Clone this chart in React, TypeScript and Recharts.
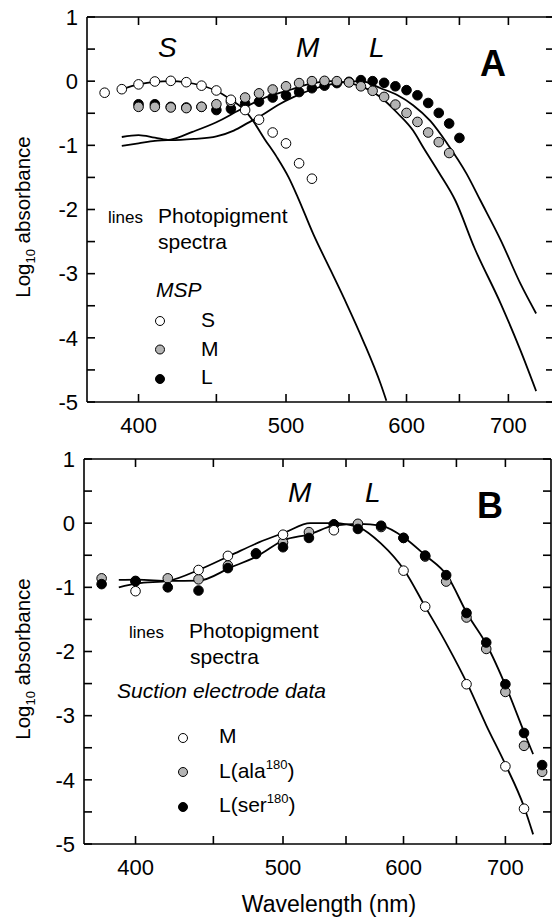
import React from 'react'
import { ComposedChart, Line, Scatter, XAxis, YAxis } from 'recharts'

const FONT = '"Liberation Sans", Arial, Helvetica, sans-serif'
const GREY = '#b4b4b4'

// panel A: MSP points (wavelength nm, log10 absorbance)
const A_S_WL = [380, 390, 400, 410, 420, 430, 440, 450, 460, 470, 480, 490, 500, 510, 520]
const A_S = [-0.18, -0.125, -0.05, -0.005, 0.005, -0.016, -0.07, -0.145, -0.29, -0.45, -0.6, -0.8, -0.97, -1.28, -1.52]
const A_M_WL = [400, 410, 420, 430, 440, 450, 460, 470, 480, 490, 500, 510, 520, 530, 540, 550, 560, 570, 580, 590, 600, 610, 620, 630, 640]
const A_M = [-0.4, -0.4, -0.41, -0.42, -0.4, -0.36, -0.32, -0.255, -0.19, -0.13, -0.08, -0.03, 0, 0.005, 0, -0.02, -0.08, -0.15, -0.245, -0.365, -0.495, -0.635, -0.8, -0.95, -1.12]
const A_L_WL = [400, 410, 420, 430, 440, 450, 460, 470, 480, 490, 500, 510, 520, 530, 540, 550, 560, 570, 580, 590, 600, 610, 620, 630, 640, 650]
const A_L = [-0.36, -0.36, -0.4, -0.41, -0.4, -0.45, -0.43, -0.35, -0.32, -0.255, -0.22, -0.17, -0.11, -0.07, -0.03, -0.01, 0.016, 0, -0.026, -0.08, -0.14, -0.22, -0.34, -0.495, -0.66, -0.885]

// panel A: photopigment spectra
const A_SLINE_WL = [390, 400, 410, 420, 430, 440, 450, 460, 470, 476, 484, 493, 502, 509, 521, 535, 548, 562, 577, 582]
const A_SLINE = [-0.125, -0.05, -0.01, 0, -0.02, -0.07, -0.15, -0.29, -0.46, -0.63, -0.9, -1.18, -1.5, -1.81, -2.38, -2.95, -3.47, -4.05, -4.72, -4.98]
const A_MLINE_WL = [390, 400, 410, 420, 434, 450, 466, 483, 504, 521, 535, 550, 563, 577, 592, 606, 616, 630, 646, 665, 692, 713, 730]
const A_MLINE = [-1.01, -0.97, -0.93, -0.91, -0.79, -0.64, -0.45, -0.27, -0.13, -0.03, 0, -0.03, -0.1, -0.25, -0.5, -0.77, -1.05, -1.42, -1.86, -2.6, -3.47, -4.2, -4.83]
const A_LLINE_WL = [390, 400, 410, 420, 435, 450, 462, 472, 482, 494, 506, 520, 535, 548, 560, 577, 592, 606, 622, 638, 657, 671, 692, 713, 730]
const A_LLINE = [-0.87, -0.84, -0.88, -0.92, -0.9, -0.86, -0.77, -0.65, -0.53, -0.37, -0.245, -0.13, -0.05, -0.01, 0, -0.11, -0.22, -0.375, -0.62, -0.97, -1.44, -1.86, -2.48, -3.16, -3.62]

// panel B: suction electrode data
const B_M_WL = [400, 440, 460, 500, 540, 600, 620, 660, 700, 720]
const B_M = [-1.06, -0.73, -0.51, -0.18, -0.11, -0.74, -1.3, -2.51, -3.79, -4.45]
const B_L_WL = [380, 400, 420, 440, 460, 480, 500, 520, 540, 560, 580, 600, 620, 640, 660, 680, 700, 720, 740]
const B_ALA = [-0.86, -0.9, -0.86, -0.875, -0.66, -0.47, -0.3, -0.14, -0.02, -0.01, -0.06, -0.23, -0.52, -0.91, -1.47, -1.96, -2.63, -3.47, -3.875]
const B_SER = [-0.95, -0.906, -1.0, -1.05, -0.7, -0.48, -0.375, -0.23, -0.02, -0.09, -0.04, -0.23, -0.505, -0.81, -1.4, -1.86, -2.51, -3.27, -3.77]

// panel B: photopigment spectra
const B_MLINE_WL = [390, 401, 421, 440, 462, 482, 502, 521, 540, 561, 580, 601, 620, 641, 661, 680, 700, 720, 730]
const B_MLINE = [-1.0, -0.94, -0.895, -0.73, -0.5, -0.3, -0.14, 0, 0, -0.07, -0.32, -0.74, -1.3, -1.9, -2.51, -3.15, -3.76, -4.42, -4.85]
const B_LLINE_WL = [390, 401, 421, 440, 462, 482, 500, 521, 540, 561, 580, 601, 620, 641, 661, 681, 701, 721, 730]
const B_LLINE = [-0.885, -0.88, -0.9, -0.895, -0.69, -0.5, -0.27, -0.17, -0.04, -0.01, -0.04, -0.23, -0.5, -0.82, -1.42, -1.91, -2.56, -3.29, -3.6]

const X_TICKS = [400, 450, 500, 550, 600, 650, 700]
const Y_TICKS = [1, 0.5, 0, -0.5, -1, -1.5, -2, -2.5, -3, -3.5, -4, -4.5, -5]

const pts = (wl: number[], v: number[]) => wl.map((x, i) => ({ x, y: v[i] }))

const dot = (fill: string) => (p: any) => (
  <circle cx={p.cx} cy={p.cy} r={4.8} fill={fill} stroke="#000" strokeWidth={1} />
)

const TICK_LEN = 8
const MARGIN_TOP = 18
const PLOT_W = 467
const AXIS = { stroke: '#000', strokeWidth: 1.6 }

type Series = { data: { x: number; y: number }[]; fill?: string }

// bottom tick: inward marks on the bottom and top frame, label under the axis
const xTick = (bottom: number) => (p: any) => {
  const v = p.payload.value
  return (
    <g>
      <line x1={p.x} x2={p.x} y1={MARGIN_TOP} y2={MARGIN_TOP + TICK_LEN} {...AXIS} />
      <line x1={p.x} x2={p.x} y1={bottom} y2={bottom - TICK_LEN} {...AXIS} />
      {v % 100 === 0 && (
        <text x={p.x} y={p.y} dy="0.71em" textAnchor="middle" fill="#000" fontSize={22} fontFamily={FONT}>{v}</text>
      )}
    </g>
  )
}

// left tick: inward marks on the left and right frame, label left of the axis
const yTick = (left: number, right: number) => (p: any) => {
  const v = p.payload.value
  return (
    <g>
      <line x1={left} x2={left + TICK_LEN} y1={p.y} y2={p.y} {...AXIS} />
      <line x1={right} x2={right - TICK_LEN} y1={p.y} y2={p.y} {...AXIS} />
      {Number.isInteger(v) && (
        <text x={p.x} y={p.y} dy="0.355em" textAnchor="end" fill="#000" fontSize={22} fontFamily={FONT}>{v}</text>
      )}
    </g>
  )
}

function Panel({ top, left, lines, points }: { top: number; left: number; lines: Series[]; points: Series[] }) {
  const bottom = 442 - 39
  return (
    <div style={{ position: 'absolute', left: 0, top }}>
      <ComposedChart width={left + PLOT_W + 8} height={442} margin={{ top: MARGIN_TOP - 1, right: 0, bottom: 0, left: 0 }}>
        <XAxis dataKey="x" type="number" scale="log" domain={[370, 750]} allowDataOverflow ticks={X_TICKS} interval={0}
          tickSize={0} tickMargin={15} height={39} axisLine={AXIS} tickLine={false} tick={xTick(bottom)} />
        <XAxis xAxisId="t" orientation="top" type="number" scale="log" domain={[370, 750]} allowDataOverflow
          tick={false} tickLine={false} height={1} axisLine={AXIS} />
        <YAxis dataKey="y" type="number" domain={[-5, 1]} allowDataOverflow ticks={Y_TICKS} interval={0}
          tickSize={0} tickMargin={9} width={left} axisLine={AXIS} tickLine={false} tick={yTick(left, left + PLOT_W)} />
        <YAxis yAxisId="r" orientation="right" type="number" domain={[-5, 1]} allowDataOverflow
          tick={false} tickLine={false} width={8} axisLine={AXIS} />
        {lines.map((s, i) => (
          <Line key={'l' + i} data={s.data} dataKey="y" type="monotone" stroke="#000" strokeWidth={1.8}
            dot={false} activeDot={false} isAnimationActive={false} />
        ))}
        {points.map((s, i) => (
          <Scatter key={'p' + i} data={s.data} dataKey="y" shape={dot(s.fill || '#fff')} isAnimationActive={false} />
        ))}
      </ComposedChart>
    </div>
  )
}

export default function App() {
  return (
    <div style={{ position: 'absolute', left: 0, top: 0, width: 552, height: 917, overflow: 'hidden', background: '#fff', fontFamily: FONT }}>
      <Panel
        top={-1}
        left={87}
        lines={[{ data: pts(A_SLINE_WL, A_SLINE) }, { data: pts(A_MLINE_WL, A_MLINE) }, { data: pts(A_LLINE_WL, A_LLINE) }]}
        points={[
          { data: pts(A_L_WL, A_L), fill: '#000' },
          { data: pts(A_M_WL, A_M), fill: GREY },
          { data: pts(A_S_WL, A_S), fill: '#fff' },
        ]}
      />
      <Panel
        top={441}
        left={84}
        lines={[{ data: pts(B_MLINE_WL, B_MLINE) }, { data: pts(B_LLINE_WL, B_LLINE) }]}
        points={[
          { data: pts(B_L_WL, B_ALA), fill: GREY },
          { data: pts(B_L_WL, B_SER), fill: '#000' },
          { data: pts(B_M_WL, B_M), fill: '#fff' },
        ]}
      />
      <svg width={552} height={917} style={{ position: 'absolute', left: 0, top: 0, pointerEvents: 'none' }} fontFamily={FONT} fill="#000">
        {/* panel A labels */}
        <text x={158} y={57} fontSize={28} fontStyle="italic">S</text>
        <text x={296} y={57} fontSize={28} fontStyle="italic">M</text>
        <text x={369} y={57} fontSize={28} fontStyle="italic">L</text>
        <text x={480} y={76} fontSize={36} fontWeight="bold">A</text>
        <text x={108} y={223} fontSize={17}>lines</text>
        <text x={158} y={223} fontSize={21}>Photopigment</text>
        <text x={158} y={249} fontSize={21}>spectra</text>
        <text x={156} y={297} fontSize={21} fontStyle="italic">MSP</text>
        <circle cx={160} cy={321} r={4.5} fill="#fff" stroke="#000" />
        <circle cx={160} cy={349.5} r={4.5} fill={GREY} stroke="#000" />
        <circle cx={160} cy={379} r={4.5} fill="#000" stroke="#000" />
        <text x={201} y={327} fontSize={21}>S</text>
        <text x={201} y={356} fontSize={21}>M</text>
        <text x={201} y={384} fontSize={21}>L</text>
        <text transform="translate(30,217) rotate(-90)" textAnchor="middle" fontSize={20.5}>
          Log<tspan fontSize={13} dy={5}>10</tspan><tspan dy={-5}> absorbance</tspan>
        </text>

        {/* panel B labels */}
        <text x={288} y={502} fontSize={28} fontStyle="italic">M</text>
        <text x={365} y={502} fontSize={28} fontStyle="italic">L</text>
        <text x={477} y={518} fontSize={36} fontWeight="bold">B</text>
        <text x={129} y={638} fontSize={17}>lines</text>
        <text x={189} y={638} fontSize={21}>Photopigment</text>
        <text x={190} y={664} fontSize={21}>spectra</text>
        <text x={117} y={698} fontSize={21} fontStyle="italic">Suction electrode data</text>
        <circle cx={183} cy={738} r={4.5} fill="#fff" stroke="#000" />
        <circle cx={183} cy={772} r={4.5} fill={GREY} stroke="#000" />
        <circle cx={183} cy={807} r={4.5} fill="#000" stroke="#000" />
        <text x={219} y={743} fontSize={21}>M</text>
        <text x={219} y={778} fontSize={21}>L(ala<tspan fontSize={13} dy={-9}>180</tspan><tspan dy={9}>)</tspan></text>
        <text x={219} y={812} fontSize={21}>L(ser<tspan fontSize={13} dy={-9}>180</tspan><tspan dy={9}>)</tspan></text>
        <text transform="translate(30,659) rotate(-90)" textAnchor="middle" fontSize={20.5}>
          Log<tspan fontSize={13} dy={5}>10</tspan><tspan dy={-5}> absorbance</tspan>
        </text>
        <text x={329} y={912} textAnchor="middle" fontSize={23}>Wavelength (nm)</text>
      </svg>
    </div>
  )
}
